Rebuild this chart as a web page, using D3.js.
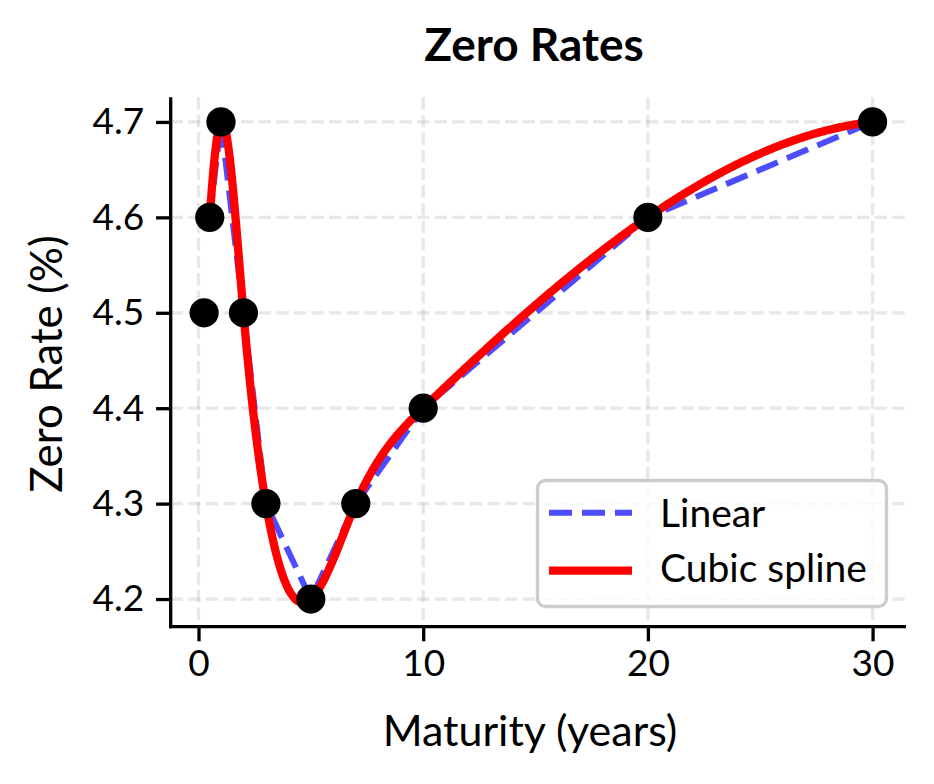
<!DOCTYPE html>
<html>
<head>
<meta charset="utf-8">
<script src="https://cdn.jsdelivr.net/npm/d3@7"></script>
<style>
  html, body { margin: 0; padding: 0; background: #fff; }
  svg { display: block; }
  text { font-family: Lato, "Noto Sans", sans-serif; fill: #000; }
</style>
</head>
<body>
<svg id="chart" width="934" height="784"></svg>
<script>
// ---- data ----
const maturities = [0.25, 0.5, 1, 2, 3, 5, 7, 10, 20, 30];
const zeroRates  = [4.5, 4.6, 4.7, 4.5, 4.3, 4.2, 4.3, 4.4, 4.6, 4.7];
const curveStart = 0.5;               // interpolated curves are drawn from here
const xTicks = [0, 10, 20, 30];
const yTicks = [4.2, 4.3, 4.4, 4.5, 4.6, 4.7];
const seriesNames = ["Linear", "Cubic spline"];

// ---- not-a-knot cubic spline through the data ----
function notAKnotSpline(xs, ys) {
  const n = xs.length, h = [];
  for (let i = 0; i < n - 1; i++) h.push(xs[i + 1] - xs[i]);
  const A = Array.from({length: n}, () => new Array(n).fill(0));
  const b = new Array(n).fill(0);
  A[0][0] = h[1]; A[0][1] = -(h[0] + h[1]); A[0][2] = h[0];
  for (let i = 1; i < n - 1; i++) {
    A[i][i - 1] = h[i - 1];
    A[i][i] = 2 * (h[i - 1] + h[i]);
    A[i][i + 1] = h[i];
    b[i] = 6 * ((ys[i + 1] - ys[i]) / h[i] - (ys[i] - ys[i - 1]) / h[i - 1]);
  }
  A[n - 1][n - 3] = h[n - 2]; A[n - 1][n - 2] = -(h[n - 3] + h[n - 2]); A[n - 1][n - 1] = h[n - 3];
  for (let c = 0; c < n; c++) {
    let p = c;
    for (let r = c + 1; r < n; r++) if (Math.abs(A[r][c]) > Math.abs(A[p][c])) p = r;
    [A[c], A[p]] = [A[p], A[c]]; [b[c], b[p]] = [b[p], b[c]];
    for (let r = c + 1; r < n; r++) {
      const f = A[r][c] / A[c][c];
      for (let k = c; k < n; k++) A[r][k] -= f * A[c][k];
      b[r] -= f * b[c];
    }
  }
  const M = new Array(n).fill(0);
  for (let r = n - 1; r >= 0; r--) {
    let s = b[r];
    for (let k = r + 1; k < n; k++) s -= A[r][k] * M[k];
    M[r] = s / A[r][r];
  }
  return function (x) {
    let i = 0;
    while (i < n - 2 && x > xs[i + 1]) i++;
    const hi = h[i], a = (xs[i + 1] - x) / hi, bb = (x - xs[i]) / hi;
    return a * ys[i] + bb * ys[i + 1] + ((a * a * a - a) * M[i] + (bb * bb * bb - bb) * M[i + 1]) * hi * hi / 6;
  };
}

const spline = notAKnotSpline(maturities, zeroRates);
const lastX = maturities[maturities.length - 1];
const splinePts = d3.range(0, 601).map(k => {
  const x = curveStart + (lastX - curveStart) * k / 600;
  return [x, spline(x)];
});
const linearPts = maturities.map((m, i) => [m, zeroRates[i]]).filter(d => d[0] >= curveStart);

// ---- layout ----
const L = 170.7, R = 906, T = 97.3, B = 626.7;
const svg = d3.select("#chart");

const xExt = d3.extent(maturities);
const xPad = (xExt[1] - xExt[0]) * 0.05;
const x = d3.scaleLinear().domain([xExt[0] - xPad, xExt[1] + xPad]).range([L, R]);

const allY = zeroRates.concat(splinePts.map(d => d[1]));
const yExt = d3.extent(allY);
const yPad = (yExt[1] - yExt[0]) * 0.05;
const y = d3.scaleLinear().domain([yExt[0] - yPad, yExt[1] + yPad]).range([B, T]);

const gridColor = "rgba(176,176,176,0.3)";
const grid = svg.append("g");
grid.selectAll("line.vx").data(xTicks).join("line")
  .attr("x1", d => x(d)).attr("x2", d => x(d)).attr("y1", T).attr("y2", B)
  .attr("stroke", gridColor).attr("stroke-width", 3.3).attr("stroke-dasharray", "12.3,5.3");
grid.selectAll("line.hy").data(yTicks).join("line")
  .attr("x1", L).attr("x2", R).attr("y1", d => y(d)).attr("y2", d => y(d))
  .attr("stroke", gridColor).attr("stroke-width", 3.3).attr("stroke-dasharray", "12.3,5.3");

const lineGen = d3.line().x(d => x(d[0])).y(d => y(d[1]));
svg.append("path").datum(linearPts).attr("d", lineGen)
  .attr("fill", "none").attr("stroke", "rgb(77,77,255)").attr("stroke-width", 6)
  .attr("stroke-dasharray", "23,10");
svg.append("path").datum(splinePts).attr("d", lineGen)
  .attr("fill", "none").attr("stroke", "#ff0000").attr("stroke-width", 8.3)
  .attr("stroke-linejoin", "round");

svg.append("g").selectAll("circle").data(maturities).join("circle")
  .attr("cx", d => x(d)).attr("cy", (d, i) => y(zeroRates[i])).attr("r", 14.6)
  .attr("fill", "#000");

const xAxis = svg.append("g").attr("transform", `translate(0,${B})`)
  .call(d3.axisBottom(x).tickValues(xTicks).tickSize(14.6).tickPadding(8).tickFormat(d3.format("d")));
const yAxis = svg.append("g").attr("transform", `translate(${L},0)`)
  .call(d3.axisLeft(y).tickValues(yTicks).tickSize(14.6).tickPadding(12).tickFormat(d3.format(".1f")));
[xAxis, yAxis].forEach(g => {
  g.select(".domain").remove();
  g.selectAll(".tick line").attr("stroke", "#000").attr("stroke-width", 3.3);
  g.selectAll(".tick text").attr("font-family", "Lato").attr("font-size", 37).attr("fill", "#000");
});
svg.append("line").attr("x1", L).attr("x2", L).attr("y1", T).attr("y2", B + 1.65)
  .attr("stroke", "#000").attr("stroke-width", 3.3);
svg.append("line").attr("x1", L - 1.65).attr("x2", R).attr("y1", B).attr("y2", B)
  .attr("stroke", "#000").attr("stroke-width", 3.3);

svg.append("text").attr("x", 534).attr("y", 61).attr("text-anchor", "middle")
  .attr("font-size", 46).attr("font-weight", "bold").text("Zero Rates");
svg.append("text").attr("x", 530).attr("y", 746).attr("text-anchor", "middle")
  .attr("font-size", 43).text("Maturity (years)");
svg.append("text").attr("transform", "translate(62,364) rotate(-90)").attr("text-anchor", "middle")
  .attr("font-size", 44).text("Zero Rate (%)");

const lg = svg.append("g");
lg.append("rect").attr("x", 537.5).attr("y", 480.5).attr("width", 349).attr("height", 126).attr("rx", 8)
  .attr("fill", "rgba(255,255,255,0.8)").attr("stroke", "#cccccc").attr("stroke-width", 3.3);
const legendRows = [
  {name: seriesNames[0], color: "rgb(77,77,255)", width: 6, dash: "23,10", yLine: 512.7, yText: 526.7},
  {name: seriesNames[1], color: "#ff0000", width: 8.3, dash: null, yLine: 570.7, yText: 581.7}
];
legendRows.forEach(r => {
  lg.append("line").attr("x1", 549).attr("x2", 632).attr("y1", r.yLine).attr("y2", r.yLine)
    .attr("stroke", r.color).attr("stroke-width", r.width).attr("stroke-dasharray", r.dash);
  lg.append("text").attr("x", 660).attr("y", r.yText).attr("font-size", 39).text(r.name);
});
</script>
</body>
</html>
